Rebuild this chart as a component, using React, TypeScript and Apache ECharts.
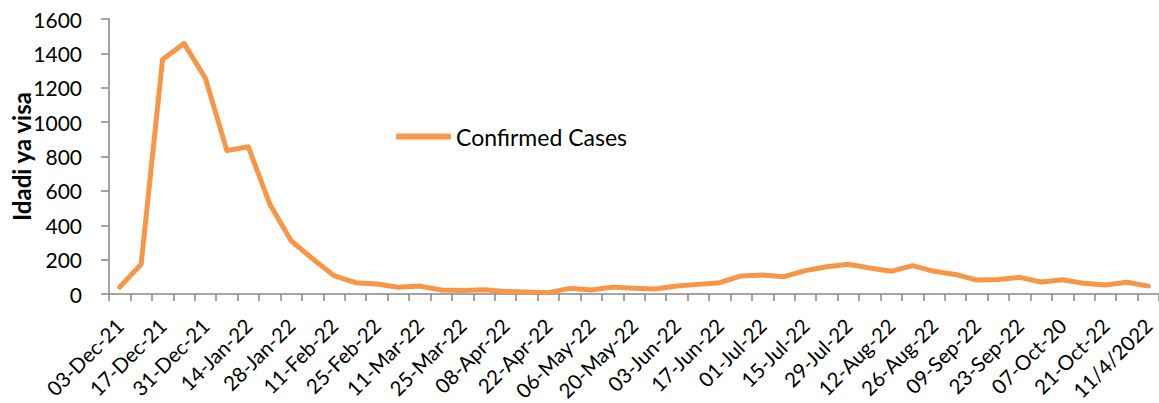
import React, { useEffect, useRef } from "react";
import * as echarts from "echarts";

const categories: string[] = [
  "03-Dec-21", "10-Dec-21", "17-Dec-21", "24-Dec-21", "31-Dec-21", "07-Jan-22", "14-Jan-22",
  "21-Jan-22", "28-Jan-22", "04-Feb-22", "11-Feb-22", "18-Feb-22", "25-Feb-22", "04-Mar-22",
  "11-Mar-22", "18-Mar-22", "25-Mar-22", "01-Apr-22", "08-Apr-22", "15-Apr-22", "22-Apr-22",
  "29-Apr-22", "06-May-22", "13-May-22", "20-May-22", "27-May-22", "03-Jun-22", "10-Jun-22",
  "17-Jun-22", "24-Jun-22", "01-Jul-22", "08-Jul-22", "15-Jul-22", "22-Jul-22", "29-Jul-22",
  "05-Aug-22", "12-Aug-22", "19-Aug-22", "26-Aug-22", "02-Sep-22", "09-Sep-22", "16-Sep-22",
  "23-Sep-22", "30-Sep-22", "07-Oct-20", "14-Oct-22", "21-Oct-22", "28-Oct-22", "11/4/2022",
];

const confirmedCases: number[] = [
  40, 173, 1365, 1458, 1255, 834, 857, 524, 310, 205, 107, 66, 58, 39,
  46, 23, 21, 25, 15, 12, 8, 33, 23, 40, 33, 29, 46, 56,
  66, 105, 110, 101, 136, 159, 173, 151, 132, 165, 132, 114, 81, 85,
  97, 70, 83, 62, 52, 68, 46,
];

const seriesName = "Confirmed Cases";
const yAxisTitle = "Idadi ya visa";

export default function App() {
  const ref = useRef<HTMLDivElement>(null);

  useEffect(() => {
    document.body.style.margin = "0";
    if (!ref.current) return;
    const chart = echarts.init(ref.current, undefined, { renderer: "svg" });
    const axisGray = "#868686";
    chart.setOption({
      animation: false,
      backgroundColor: "#ffffff",
      textStyle: { fontFamily: "Lato" },
      grid: {
        left: 109,
        right: 0,
        top: 19,
        bottom: 109,
        containLabel: false,
        outerBoundsMode: "none",
      },
      legend: {
        data: [{ name: seriesName, icon: "roundRect" }],
        left: 396,
        top: 125,
        padding: 0,
        itemWidth: 55,
        itemHeight: 6,
        textStyle: { fontFamily: "Lato", fontSize: 23, color: "#000" },
      },
      xAxis: {
        type: "category",
        data: categories,
        boundaryGap: true,
        axisLine: { lineStyle: { color: axisGray, width: 1.5 } },
        axisTick: {
          show: true,
          interval: 0,
          length: 7,
          lineStyle: { color: axisGray, width: 1.5 },
        },
        axisLabel: {
          interval: 1,
          rotate: 45,
          margin: 28,
          fontFamily: "Lato",
          fontSize: 20.5,
          lineHeight: 18,
          color: "#000",
          hideOverlap: false,
        },
        splitLine: { show: false },
      },
      yAxis: {
        type: "value",
        min: 0,
        max: 1600,
        interval: 200,
        name: yAxisTitle,
        nameLocation: "middle",
        nameRotate: 90,
        nameGap: 76,
        nameMoveOverlap: false,
        nameTextStyle: {
          fontFamily: "Lato",
          fontWeight: "bold",
          fontSize: 24,
          color: "#000",
        },
        axisLine: { show: true, lineStyle: { color: axisGray, width: 1.5 } },
        axisTick: { show: true, length: 8, lineStyle: { color: axisGray, width: 1.5 } },
        axisLabel: {
          margin: 27,
          fontFamily: "Lato",
          fontSize: 21,
          color: "#000",
          formatter: (v: number) => String(v),
        },
        splitLine: { show: false },
      },
      series: [
        {
          name: seriesName,
          type: "line",
          data: confirmedCases,
          showSymbol: false,
          symbol: "none",
          color: "#F79646",
          lineStyle: { color: "#F79646", width: 5, cap: "round", join: "round" },
          itemStyle: { color: "#F79646" },
        },
      ],
    });
    return () => {
      chart.dispose();
    };
  }, []);

  return <div ref={ref} style={{ width: 1159, height: 403 }} />;
}
